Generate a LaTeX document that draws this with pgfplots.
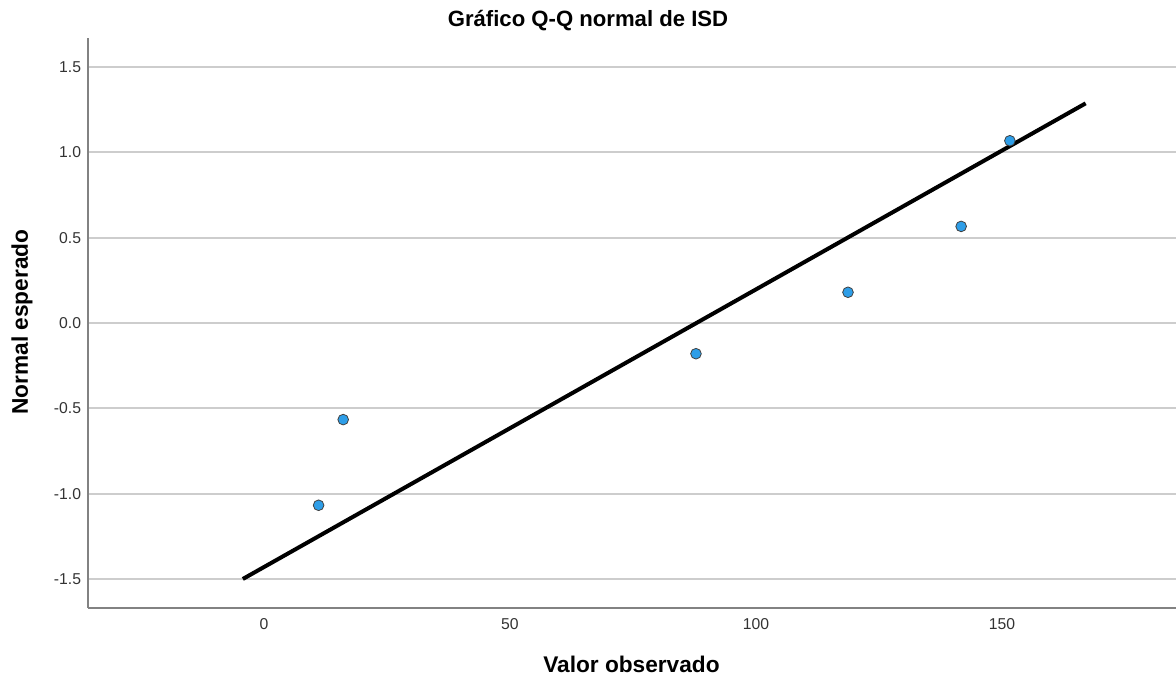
\documentclass[border=0pt]{standalone}
\usepackage{fontspec}
\setmainfont{Liberation Sans}
\usepackage{pgfplots}
\pgfplotsset{compat=1.18}
\definecolor{ptfill}{RGB}{46,158,232}
\definecolor{gridc}{RGB}{205,205,205}
\definecolor{axc}{RGB}{130,130,130}
\begin{document}
\begin{tikzpicture}
\useasboundingbox (0,0) rectangle (882pt,511.5pt);
\begin{axis}[
  at={(66pt,55.5pt)}, anchor=south west,
  scale only axis, width=816pt, height=427.5pt,
  xmin=-35.77, xmax=185.37, ymin=-1.67, ymax=1.67,
  axis x line*=bottom, axis y line*=left,
  axis line style={axc, line width=1.2pt, -},
  xtick={0,50,100,150}, ytick={-1.5,-1,-0.5,0,0.5,1,1.5},
  major tick length=0pt,
  ymajorgrids, grid style={gridc, line width=1.3pt},
  /pgf/number format/assume math mode=true,
  yticklabel style={/pgf/number format/.cd, fixed, fixed zerofill, precision=1, /tikz/.cd, font=\fontsize{11.8}{13}\selectfont, color=black!80, inner sep=0pt, xshift=-5pt},
  xticklabel style={font=\fontsize{11.8}{13}\selectfont, color=black!80, inner sep=0pt, yshift=-7.5pt},
  clip=false,
]
\addplot[black, line width=3pt] coordinates {(-4.3,-1.5) (167.0,1.287)};
\addplot[only marks, mark=*, mark size=4pt, mark options={fill=ptfill, draw=black!75, line width=0.6pt}] coordinates {
(11.1,-1.068) (16.1,-0.566) (87.8,-0.180) (118.7,0.180) (141.7,0.566) (151.6,1.068)};
\end{axis}
\node[font=\bfseries\fontsize{16.6}{18}\selectfont] at (441pt,496pt) {Gráfico Q-Q normal de ISD};
\node[font=\bfseries\fontsize{17}{19}\selectfont] at (473.6pt,13pt) {Valor observado};
\node[font=\bfseries\fontsize{17}{19}\selectfont, rotate=90] at (16.5pt,270pt) {Normal esperado};
\end{tikzpicture}
\end{document}
